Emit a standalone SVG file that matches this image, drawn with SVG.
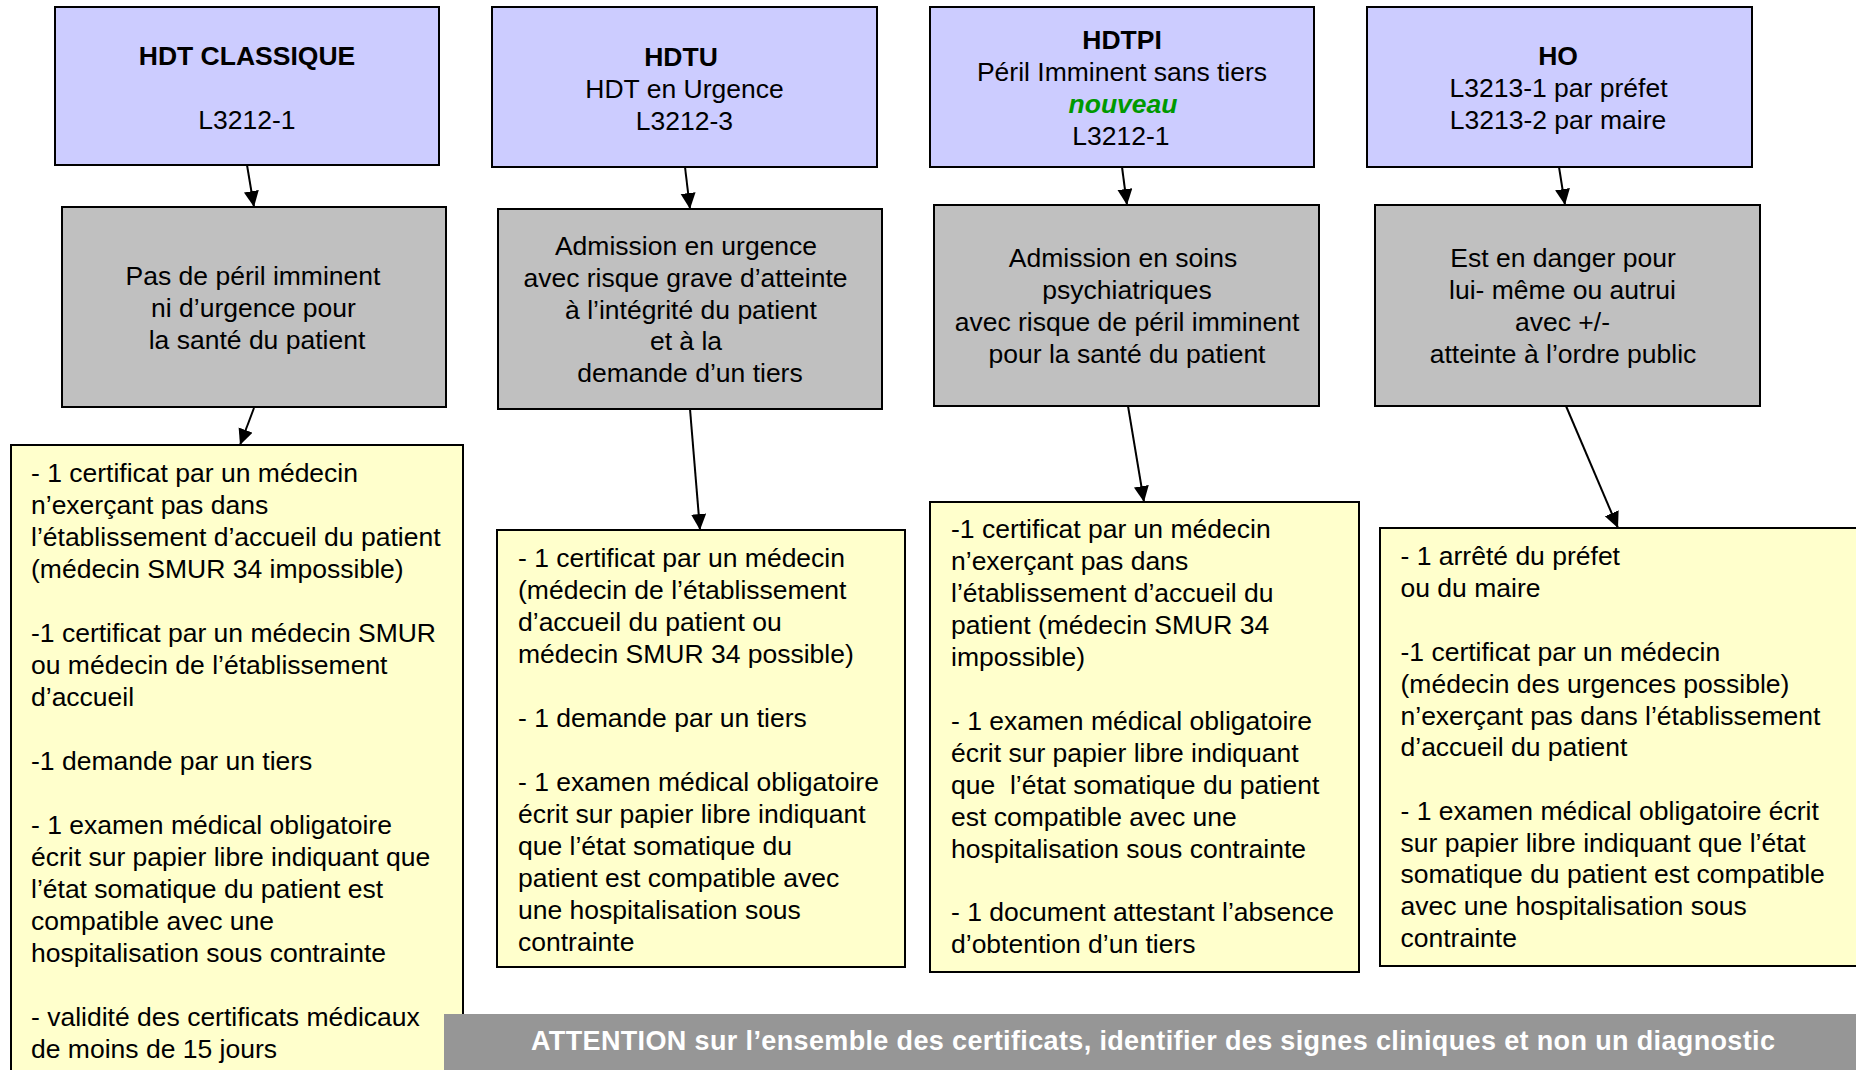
<svg xmlns="http://www.w3.org/2000/svg" width="1856" height="1070" viewBox="0 0 1856 1070">
<style>
text{font-family:"Liberation Sans",Arial,sans-serif;font-size:26.5px;fill:#000}
.c{text-anchor:middle}
.b{font-weight:bold}
.top{fill:#CCCCFF;stroke:#000;stroke-width:2}
.mid{fill:#C0C0C0;stroke:#000;stroke-width:2}
.bot{fill:#FFFFCC;stroke:#000;stroke-width:2}
.arr{stroke:#000;stroke-width:2;fill:none;marker-end:url(#ah)}
.new{fill:#009900;font-weight:bold;font-style:italic}
.ban{fill:#fff;font-weight:bold;font-size:27px}
</style>
<defs>
<marker id="ah" markerUnits="userSpaceOnUse" markerWidth="18" markerHeight="16" refX="16" refY="7.5" orient="auto">
<path d="M0,0 L16,7.5 L0,15 z" fill="#000"/>
</marker>
</defs>
<rect width="1856" height="1070" fill="#fff"/>

<g id="hdt-classique">
<rect class="top" x="55" y="7" width="384" height="158"/>
<text class="c b" x="247" y="65">HDT CLASSIQUE</text>
<text class="c" x="247" y="129">L3212-1</text>
</g>
<g id="hdtu">
<rect class="top" x="492" y="7" width="385" height="160"/>
<text class="c b" x="681" y="66">HDTU</text>
<text class="c" x="684.5" y="98">HDT en Urgence</text>
<text class="c" x="684.5" y="129.5">L3212-3</text>
</g>
<g id="hdtpi">
<rect class="top" x="930" y="7" width="384" height="160"/>
<text class="c b" x="1122" y="49">HDTPI</text>
<text class="c" x="1122" y="81">Péril Imminent sans tiers</text>
<text class="c new" x="1123" y="113">nouveau</text>
<text class="c" x="1121" y="145">L3212-1</text>
</g>
<g id="ho">
<rect class="top" x="1367" y="7" width="385" height="160"/>
<text class="c b" x="1558" y="64.5">HO</text>
<text class="c" x="1558.5" y="96.5">L3213-1 par préfet</text>
<text class="c" x="1558" y="128.5">L3213-2 par maire</text>
</g>

<g id="cond-classique">
<rect class="mid" x="62" y="207" width="384" height="200"/>
<text class="c" x="253" y="285">Pas de péril imminent</text>
<text class="c" x="253.5" y="317">ni d’urgence pour</text>
<text class="c" x="257" y="349">la santé du patient</text>
</g>
<g id="cond-hdtu">
<rect class="mid" x="498" y="209" width="384" height="200"/>
<text class="c" x="686" y="255">Admission en urgence</text>
<text class="c" x="685.5" y="287">avec risque grave d’atteinte</text>
<text class="c" x="691" y="318.5">à l’intégrité du patient</text>
<text class="c" x="686" y="350">et à la</text>
<text class="c" x="690" y="382">demande d’un tiers</text>
</g>
<g id="cond-hdtpi">
<rect class="mid" x="934" y="205" width="385" height="201"/>
<text class="c" x="1123" y="267">Admission en soins</text>
<text class="c" x="1127" y="299">psychiatriques</text>
<text class="c" x="1127" y="331">avec risque de péril imminent</text>
<text class="c" x="1127" y="363">pour la santé du patient</text>
</g>
<g id="cond-ho">
<rect class="mid" x="1375" y="205" width="385" height="201"/>
<text class="c" x="1563" y="267">Est en danger pour</text>
<text class="c" x="1562.5" y="299">lui- même ou autrui</text>
<text class="c" x="1562.5" y="331">avec +/-</text>
<text class="c" x="1563" y="363">atteinte à l’ordre public</text>
</g>

<g id="pieces-classique">
<rect class="bot" x="11" y="445" width="452" height="640"/>
<text x="31" y="482">
<tspan x="31" y="482">- 1 certificat par un médecin</tspan>
<tspan x="31" y="514">n’exerçant pas dans</tspan>
<tspan x="31" y="546">l’établissement d’accueil du patient</tspan>
<tspan x="31" y="578">(médecin SMUR 34 impossible)</tspan>
<tspan x="31" y="642">-1 certificat par un médecin SMUR</tspan>
<tspan x="31" y="674">ou médecin de l’établissement</tspan>
<tspan x="31" y="706">d’accueil</tspan>
<tspan x="31" y="769.5">-1 demande par un tiers</tspan>
<tspan x="31" y="833.5">- 1 examen médical obligatoire</tspan>
<tspan x="31" y="865.5">écrit sur papier libre indiquant que</tspan>
<tspan x="31" y="897.5">l’état somatique du patient est</tspan>
<tspan x="31" y="929.5">compatible avec une</tspan>
<tspan x="31" y="961.5">hospitalisation sous contrainte</tspan>
<tspan x="31" y="1025.5">- validité des certificats médicaux</tspan>
<tspan x="31" y="1057.5">de moins de 15 jours</tspan>
</text>
</g>
<g id="pieces-hdtu">
<rect class="bot" x="497" y="530" width="408" height="437"/>
<text x="518" y="567">
<tspan x="518" y="567">- 1 certificat par un médecin</tspan>
<tspan x="518" y="599">(médecin de l’établissement</tspan>
<tspan x="518" y="631">d’accueil du patient ou</tspan>
<tspan x="518" y="663">médecin SMUR 34 possible)</tspan>
<tspan x="518" y="726.5">- 1 demande par un tiers</tspan>
<tspan x="518" y="790.5">- 1 examen médical obligatoire</tspan>
<tspan x="518" y="822.5">écrit sur papier libre indiquant</tspan>
<tspan x="518" y="854.5">que l’état somatique du</tspan>
<tspan x="518" y="886.5">patient est compatible avec</tspan>
<tspan x="518" y="918.5">une hospitalisation sous</tspan>
<tspan x="518" y="950.5">contrainte</tspan>
</text>
</g>
<g id="pieces-hdtpi">
<rect class="bot" x="930" y="502" width="429" height="470"/>
<text x="951" y="538">
<tspan x="951" y="538">-1 certificat par un médecin</tspan>
<tspan x="951" y="570">n’exerçant pas dans</tspan>
<tspan x="951" y="602">l’établissement d’accueil du</tspan>
<tspan x="951" y="634">patient (médecin SMUR 34</tspan>
<tspan x="951" y="665.5">impossible)</tspan>
<tspan x="951" y="729.5">- 1 examen médical obligatoire</tspan>
<tspan x="951" y="761.5">écrit sur papier libre indiquant</tspan>
<tspan x="951" y="793.5">que &#160;l’état somatique du patient</tspan>
<tspan x="951" y="825.5">est compatible avec une</tspan>
<tspan x="951" y="857.5">hospitalisation sous contrainte</tspan>
<tspan x="951" y="921">- 1 document attestant l’absence</tspan>
<tspan x="951" y="953">d’obtention d’un tiers</tspan>
</text>
</g>
<g id="pieces-ho">
<rect class="bot" x="1380" y="528" width="490" height="438"/>
<text x="1400.5" y="565">
<tspan x="1400.5" y="565">- 1 arrêté du préfet</tspan>
<tspan x="1400.5" y="597">ou du maire</tspan>
<tspan x="1400.5" y="660.5">-1 certificat par un médecin</tspan>
<tspan x="1400.5" y="692.5">(médecin des urgences possible)</tspan>
<tspan x="1400.5" y="724.5">n’exerçant pas dans l’établissement</tspan>
<tspan x="1400.5" y="756">d’accueil du patient</tspan>
<tspan x="1400.5" y="819.5">- 1 examen médical obligatoire écrit</tspan>
<tspan x="1400.5" y="851.5">sur papier libre indiquant que l’état</tspan>
<tspan x="1400.5" y="883">somatique du patient est compatible</tspan>
<tspan x="1400.5" y="915">avec une hospitalisation sous</tspan>
<tspan x="1400.5" y="947">contrainte</tspan>
</text>
</g>

<g id="connectors">
<line class="arr" x1="247" y1="165" x2="254" y2="207"/>
<line class="arr" x1="685" y1="167" x2="690" y2="209"/>
<line class="arr" x1="1122" y1="167" x2="1127" y2="205"/>
<line class="arr" x1="1559" y1="167" x2="1565" y2="205"/>
<line class="arr" x1="254" y1="408" x2="240" y2="445"/>
<line class="arr" x1="690" y1="409" x2="700" y2="530"/>
<line class="arr" x1="1128" y1="406" x2="1144" y2="502"/>
<line class="arr" x1="1566" y1="406" x2="1618" y2="528"/>
</g>

<g id="attention">
<rect x="444" y="1014" width="1420" height="60" fill="#969696"/>
<text class="ban" x="531" y="1050" textLength="1244" lengthAdjust="spacing">ATTENTION sur l’ensemble des certificats, identifier des signes cliniques et non un diagnostic</text>
</g>
</svg>
